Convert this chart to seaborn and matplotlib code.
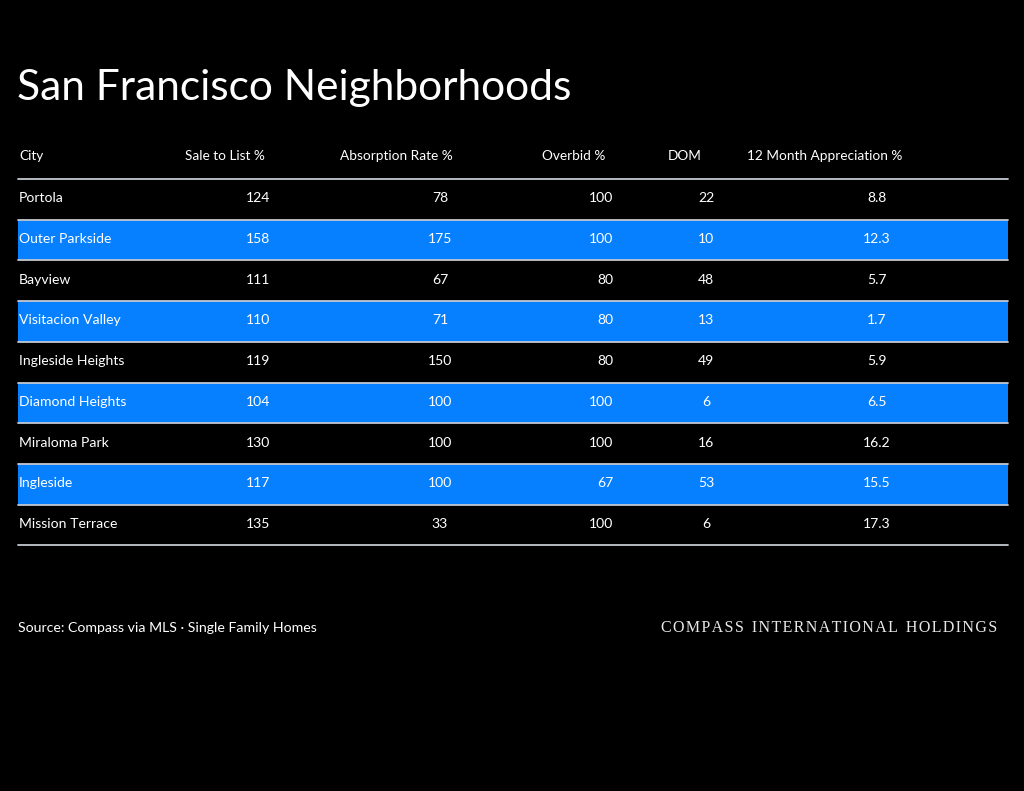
import matplotlib
matplotlib.use("Agg")
import matplotlib.pyplot as plt
import seaborn as sns
import pandas as pd

# table data
cities = ["Portola", "Outer Parkside", "Bayview", "Visitacion Valley", "Ingleside Heights",
          "Diamond Heights", "Miraloma Park", "Ingleside", "Mission Terrace"]
sale_to_list = [124, 158, 111, 110, 119, 104, 130, 117, 135]
absorption = [78, 175, 67, 71, 150, 100, 100, 100, 33]
overbid = [100, 100, 80, 80, 80, 100, 100, 67, 100]
dom = [22, 10, 48, 13, 49, 6, 16, 53, 6]
appreciation = ["8.8", "12.3", "5.7", "1.7", "5.9", "6.5", "16.2", "15.5", "17.3"]
headers = ["City", "Sale to List %", "Absorption Rate %", "Overbid %", "DOM", "12 Month Appreciation %"]

df = pd.DataFrame({
    "City": cities,
    "Sale to List %": sale_to_list,
    "Absorption Rate %": absorption,
    "Overbid %": overbid,
    "DOM": dom,
    "12 Month Appreciation %": appreciation,
})

sns.set_theme(style="dark", rc={"axes.facecolor": "black", "figure.facecolor": "black"})
plt.rcParams["font.family"] = ["Lato", "DejaVu Sans"]

BLUE = "#0680ff"
LINE = "#c4c8d0"

fig = plt.figure(figsize=(10.24, 7.91), dpi=100)
ax = fig.add_axes([0, 0, 1, 1])
ax.set_xlim(0, 1024)
ax.set_ylim(791, 0)
ax.axis("off")

left, right = 18, 1008
top = 179
row_h = 40.7

# header x positions (left edge) and value anchors
head_x = [19, 185, 340, 542, 668, 747]
val_x = [19, 270, 440, 613, 706, 877]
val_ha = ["left", "right", "center", "right", "center", "center"]

ax.text(17, 88, "San Francisco Neighborhoods", color="white", fontsize=30.6,
        va="center", ha="left")

for h, x in zip(headers, head_x):
    ax.text(x, 156, h, color="white", fontsize=9.8, va="center", ha="left")

centers = [top + (i + 0.5) * row_h for i in range(len(df))]
blue_idx = [i for i in range(len(df)) if i % 2 == 1]
ax.barh([centers[i] for i in blue_idx], right - left, left=left, height=row_h,
        color=BLUE, edgecolor="none", zorder=1)

for k in range(len(df) + 1):
    yy = top + k * row_h
    ax.plot([left, right], [yy, yy], color=LINE, lw=1.3, zorder=2)

for i, row in df.iterrows():
    for j, col in enumerate(headers):
        ax.text(val_x[j], centers[i] - 1, str(row[col]), color="white", fontsize=10.1,
                va="center", ha=val_ha[j], zorder=3)

ax.text(18, 628, "Source: Compass via MLS \u00b7 Single Family Homes", color="white",
        fontsize=10.2, va="center", ha="left")
brand = "\u2002".join("\u200a".join(w) for w in "COMPASS INTERNATIONAL HOLDINGS".split())
ax.text(997, 628, brand, color="#e8e8e8", fontsize=11.5, va="center", ha="right",
        family=["Liberation Serif", "DejaVu Serif"])

fig.savefig("out.png", dpi=100, facecolor="black")
